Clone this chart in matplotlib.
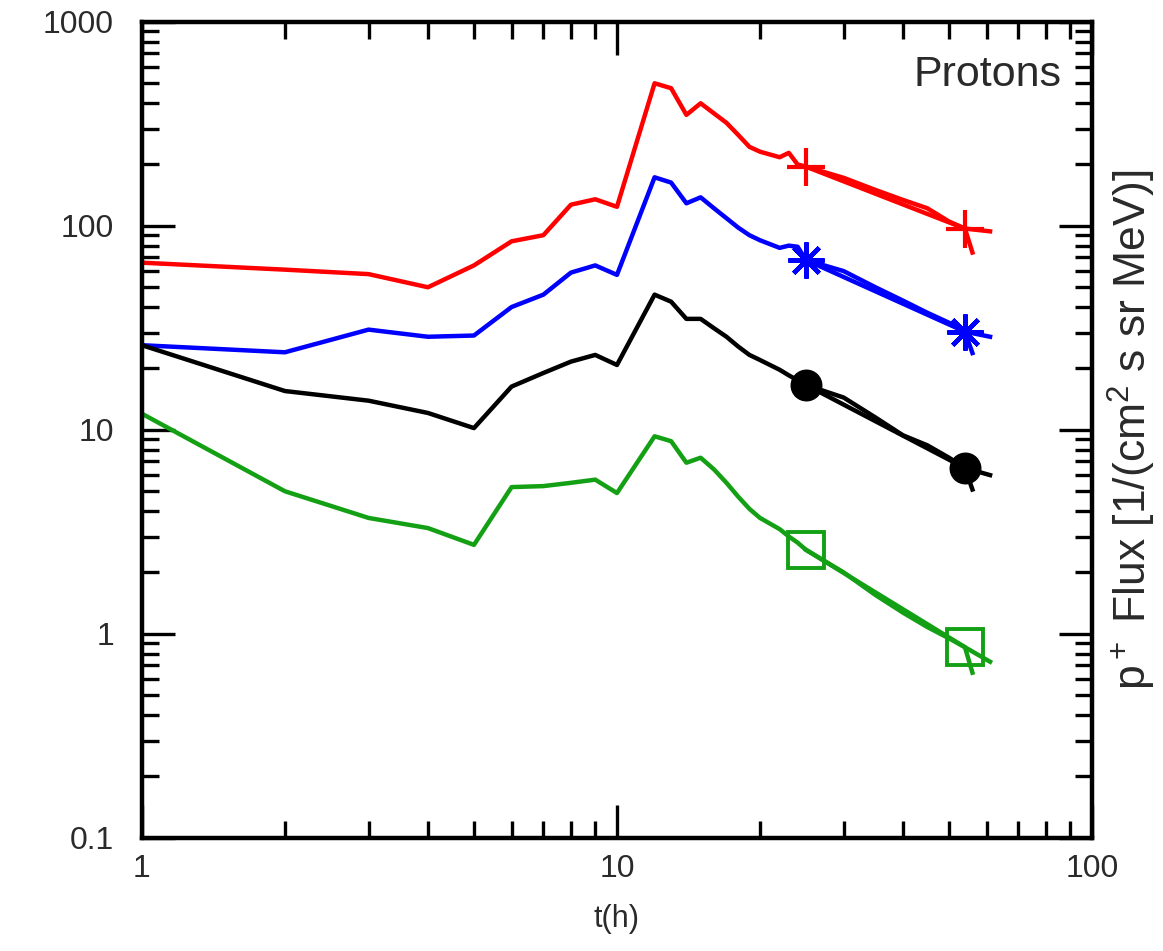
import matplotlib
matplotlib.use('Agg')
import matplotlib.pyplot as plt
import matplotlib.ticker as mticker

plt.rcParams['font.family'] = ['Liberation Sans', 'DejaVu Sans']
plt.rcParams['mathtext.fontset'] = 'custom'
plt.rcParams['mathtext.rm'] = 'Liberation Sans'
plt.rcParams['mathtext.it'] = 'Liberation Sans'
plt.rcParams['mathtext.default'] = 'rm'

# time grid of the measured curves (hours)
t_data = [1, 2, 3, 4, 5, 6, 7, 8, 9, 10, 12, 13, 14, 15, 16, 17, 18, 19, 20,
          22, 23, 24, 25, 30, 35, 40, 45, 50, 54, 56]
# marker / fit segment
t_fit = [25, 54, 61]

red = [66, 61, 58, 50, 64, 84, 90, 127, 135, 124, 500, 473, 350, 399, 356, 320,
       279, 244, 231, 217, 228, 200, 195, 172, 150, 134, 122, 105, 97, 74]
red_fit = [195, 97, 94]

blue = [26, 24, 31, 28.6, 29, 40, 46, 59, 64, 57.5, 173, 163, 129, 138, 122,
        109, 98, 90, 85, 78, 80, 79, 68, 60, 50, 43, 37.5, 33.5, 30.3, 23.8]
blue_fit = [68, 30.3, 28.6]

black = [26, 15.5, 13.9, 12.1, 10.2, 16.3, 19, 21.6, 23.3, 20.8, 46, 42.5, 35,
         35, 31.5, 28.6, 25.6, 23.3, 22, 19.7, 18.5, 17.5, 16.6, 14.4, 11.5,
         9.4, 8.4, 7.3, 6.5, 5.1]
black_fit = [16.6, 6.5, 6.0]

green = [12, 5.0, 3.7, 3.3, 2.73, 5.24, 5.3, 5.5, 5.7, 4.9, 9.3, 8.8, 6.9, 7.3,
         6.4, 5.5, 4.7, 4.1, 3.7, 3.26, 3.0, 2.8, 2.58, 2.0, 1.55, 1.27, 1.08,
         0.95, 0.86, 0.645]
green_fit = [2.58, 0.86, 0.73]

x_ticks = [1, 10, 100]
y_ticks = [0.1, 1, 10, 100, 1000]

fig = plt.figure(figsize=(11.63, 9.51), dpi=100)
ax = fig.add_axes([0.122, 0.119, 0.817, 0.858])

series = [
    (red, red_fit, '#ff0000', dict(marker='+', markersize=28, markeredgewidth=3)),
    (blue, blue_fit, '#0000ff', dict(marker=(8, 2, 0), markersize=26, markeredgewidth=3.2)),
    (black, black_fit, '#000000', dict(marker='o', markersize=22)),
    (green, green_fit, '#14a014', dict(marker='s', markersize=26, markerfacecolor='none',
                                       markeredgewidth=2.8)),
]
for vals, fit, col, mk in series:
    ax.plot(t_data, vals, color=col, lw=3.2)
    ax.plot(t_fit, fit, color=col, lw=3.2, markevery=[0, 1], markeredgecolor=col, **mk)

ax.set_xscale('log')
ax.set_yscale('log')
ax.set_xlim(1, 100)
ax.set_ylim(0.1, 1000)

ax.set_xticks(x_ticks)
ax.set_yticks(y_ticks)
ax.xaxis.set_major_formatter(mticker.FuncFormatter(lambda v, p: '%g' % v))
ax.yaxis.set_major_formatter(mticker.FuncFormatter(lambda v, p: '%g' % v))
ax.xaxis.set_minor_formatter(mticker.NullFormatter())
ax.yaxis.set_minor_formatter(mticker.NullFormatter())

ax.tick_params(which='both', direction='in', top=True, right=True,
               labelsize=23, labelcolor='#2a2a2a', width=2.4)
ax.tick_params(which='major', length=24)
ax.tick_params(axis='x', which='major', pad=12)
ax.tick_params(axis='y', which='major', pad=20)
ax.tick_params(which='minor', length=12)
for sp in ax.spines.values():
    sp.set_linewidth(3.2)

ax.set_xlabel('t(h)', fontsize=22, color='#2a2a2a', labelpad=14)
ax.yaxis.set_label_position('right')
ax.set_ylabel(r'p$^+$ Flux [1/(cm$^2$ s sr MeV)]', fontsize=32, color='#2a2a2a',
              labelpad=10)
ax.text(0.968, 0.935, 'Protons', transform=ax.transAxes, ha='right', va='center',
        fontsize=31, color='#2a2a2a')

fig.savefig('out.png', dpi=100)
